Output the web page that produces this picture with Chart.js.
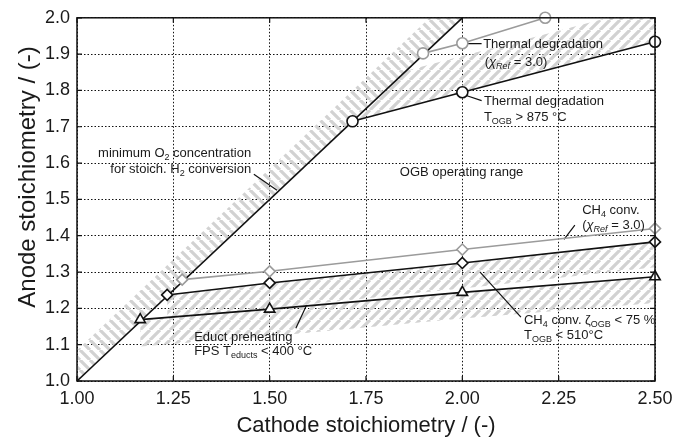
<!DOCTYPE html>
<html><head><meta charset="utf-8">
<script src="https://cdn.jsdelivr.net/npm/chart.js@4.4.1/dist/chart.umd.min.js"></script>
<style>html,body{margin:0;padding:0;background:#fff;}#wrap{width:686px;height:439px;position:relative;}</style>
</head><body><div id="wrap"><canvas id="c" width="686" height="439"></canvas></div>
<script>
// ---- data ----
const xTickLabels = ['1.00','1.25','1.50','1.75','2.00','2.25','2.50'];
const yTickLabels = ['1.0','1.1','1.2','1.3','1.4','1.5','1.6','1.7','1.8','1.9','2.0'];

const stoichX = [1.0, 2.0];
const stoichY = [1.0, 2.0];
const thermalRefX = [1.898, 2.0, 2.215];
const thermalRefY = [1.902, 1.93, 2.0];
const thermalX = [1.715, 2.0, 2.5];
const thermalY = [1.715, 1.795, 1.934];
const ch4RefX = [1.273, 1.5, 2.0, 2.5];
const ch4RefY = [1.279, 1.302, 1.362, 1.42];
const ch4X = [1.234, 1.5, 2.0, 2.5];
const ch4Y = [1.237, 1.27, 1.325, 1.383];
const eductX = [1.164, 1.5, 2.0, 2.5];
const eductY = [1.169, 1.198, 1.244, 1.287];

// hatched bands (edges)
const bandStoichX = [1.0, 2.0];
const bandStoichUpper = [1.085, 2.085];
const bandStoichLower = [1.0, 2.0];
const bandThermalX = [1.715, 1.854, 2.0, 2.5];
const bandThermalUpper = [1.715, 1.854, 1.895, 2.034];
const bandThermalLower = [1.715, 1.754, 1.795, 1.934];
const bandCh4X = [1.234, 1.5, 2.0, 2.5];
const bandCh4Upper = [1.237, 1.27, 1.325, 1.383];
const bandCh4Lower = [1.165, 1.200, 1.255, 1.313];
const bandEductX = [1.164, 1.5, 2.0, 2.5];
const bandEductUpper = [1.169, 1.198, 1.244, 1.287];
const bandEductLower = [1.095, 1.123, 1.172, 1.215];

// leader lines [x1,y1,x2,y2]
const leaderThermalRef = [2.014, 1.929, 2.05, 1.929];
const leaderThermal = [2.01, 1.786, 2.05, 1.772];
const leaderO2 = [1.459, 1.569, 1.519, 1.525];
const leaderCh4Ref = [2.264, 1.390, 2.292, 1.429];
const leaderCh4 = [2.046, 1.300, 2.152, 1.176];
const leaderEduct = [1.596, 1.209, 1.568, 1.145];

const pts = (xs, ys) => xs.map((x, i) => ({x, y: ys[i]}));
const seg = a => [{x: a[0], y: a[1]}, {x: a[2], y: a[3]}];

const canvas = document.getElementById('c');
const ctx0 = canvas.getContext('2d');
function makeHatch(dir) {
  const s = 10;
  const c = document.createElement('canvas');
  c.width = s; c.height = s;
  const g = c.getContext('2d');
  g.strokeStyle = '#d2d2d2';
  g.lineWidth = 3.2;
  g.beginPath();
  for (const o of [-s, 0, s]) {
    if (dir > 0) { g.moveTo(o, s); g.lineTo(o + s, 0); }
    else { g.moveTo(o, 0); g.lineTo(o + s, s); }
  }
  g.stroke();
  return ctx0.createPattern(c, 'repeat');
}
const hatchFwd = makeHatch(1);
const hatchBack = makeHatch(-1);

const BLACK = '#111';
const GRAY = '#9b9b9b';
const FONT = "'Liberation Sans', Arial, Helvetica, sans-serif";

function series(label, xs, ys, color, style, r) {
  return {label, data: pts(xs, ys), borderColor: color, borderWidth: 1.6,
    pointStyle: style, pointRadius: r, pointBorderWidth: 1.6, pointBorderColor: color,
    pointBackgroundColor: '#fff', fill: false, tension: 0, clip: false};
}
function leader(a) {
  return {label: 'leader', data: seg(a), borderColor: BLACK, borderWidth: 1.2, pointRadius: 0, fill: false};
}
function bandEdge(xs, ys, fill, pattern) {
  return {label: 'band', data: pts(xs, ys), borderColor: 'rgba(0,0,0,0)', borderWidth: 0,
    pointRadius: 0, fill: fill, backgroundColor: pattern || 'rgba(0,0,0,0)'};
}

const datasets = [
  series('Thermal degradation (χRef = 3.0)', thermalRefX, thermalRefY, GRAY, 'circle', 5.5),
  series('Thermal degradation TOGB > 875 °C', thermalX, thermalY, BLACK, 'circle', 5.5),
  series('CH4 conv. (χRef = 3.0)', ch4RefX, ch4RefY, GRAY, 'rectRot', 5.5),
  series('CH4 conv. ζOGB < 75 %', ch4X, ch4Y, BLACK, 'rectRot', 5.5),
  series('Educt preheating', eductX, eductY, BLACK, 'triangle', 6),
  {label: 'minimum O2 concentration', data: pts(stoichX, stoichY), borderColor: BLACK, borderWidth: 1.6, pointRadius: 0, fill: false},
  leader(leaderThermalRef), leader(leaderThermal), leader(leaderO2),
  leader(leaderCh4Ref), leader(leaderCh4), leader(leaderEduct),
];
datasets.push(
  bandEdge(bandStoichX, bandStoichUpper, '+1', hatchBack),
  bandEdge(bandStoichX, bandStoichLower, false),
  bandEdge(bandThermalX, bandThermalUpper, '+1', hatchFwd),
  bandEdge(bandThermalX, bandThermalLower, false),
  bandEdge(bandCh4X, bandCh4Upper, '+1', hatchFwd),
  bandEdge(bandCh4X, bandCh4Lower, false),
  bandEdge(bandEductX, bandEductUpper, '+1', hatchFwd),
  bandEdge(bandEductX, bandEductLower, false)
);

// annotation texts: parts [text, kind] kind: n normal, s subscript, i italic, is italic subscript
const notes = [
  {x: 2.054, y: 1.926, a: 'left', p: [['Thermal degradation','n']]},
  {x: 2.058, y: 1.877, a: 'left', p: [['(','n'],['χ','i'],['Ref','is'],[' = 3.0)','n']]},
  {x: 2.056, y: 1.770, a: 'left', p: [['Thermal degradation','n']]},
  {x: 2.056, y: 1.726, a: 'left', p: [['T','n'],['OGB','s'],[' > 875 °C','n']]},
  {x: 1.452, y: 1.626, a: 'right', p: [['minimum O','n'],['2','s'],[' concentration','n']]},
  {x: 1.452, y: 1.583, a: 'right', p: [['for stoich. H','n'],['2','s'],[' conversion','n']]},
  {x: 1.998, y: 1.574, a: 'center', p: [['OGB operating range','n']]},
  {x: 2.311, y: 1.470, a: 'left', p: [['CH','n'],['4','s'],[' conv.','n']]},
  {x: 2.311, y: 1.429, a: 'left', p: [['(','n'],['χ','i'],['Ref','is'],[' = 3.0)','n']]},
  {x: 2.160, y: 1.166, a: 'left', p: [['CH','n'],['4','s'],[' conv. ζ','n'],['OGB','s'],[' < 75 %','n']]},
  {x: 2.160, y: 1.126, a: 'left', p: [['T','n'],['OGB','s'],[' < 510°C','n']]},
  {x: 1.304, y: 1.121, a: 'left', p: [['Educt preheating','n']]},
  {x: 1.304, y: 1.081, a: 'left', p: [['FPS T','n'],['educts','s'],[' < 400 °C','n']]},
];

function fontFor(k) {
  if (k === 'n') return '13px ' + FONT;
  if (k === 'i') return 'italic 13px ' + FONT;
  if (k === 's') return '9px ' + FONT;
  return 'italic 9px ' + FONT;
}

const overlay = {
  id: 'overlay',
  afterDatasetsDraw(chart) {
    const {ctx, chartArea: ca, scales: {x, y}} = chart;
    ctx.save();
    ctx.strokeStyle = BLACK; ctx.lineWidth = 1.5; ctx.setLineDash([]);
    ctx.strokeRect(ca.left, ca.top, ca.right - ca.left, ca.bottom - ca.top);
    ctx.lineWidth = 1.2;
    ctx.beginPath();
    x.ticks.forEach(t => {
      const px = x.getPixelForValue(t.value);
      ctx.moveTo(px, ca.bottom); ctx.lineTo(px, ca.bottom - 5);
      ctx.moveTo(px, ca.top); ctx.lineTo(px, ca.top + 5);
    });
    y.ticks.forEach(t => {
      const py = y.getPixelForValue(t.value);
      ctx.moveTo(ca.left, py); ctx.lineTo(ca.left + 5, py);
      ctx.moveTo(ca.right, py); ctx.lineTo(ca.right - 5, py);
    });
    ctx.stroke();
    ctx.fillStyle = '#1a1a1a';
    ctx.textBaseline = 'middle';
    ctx.textAlign = 'left';
    notes.forEach(n => {
      let w = 0;
      n.p.forEach(([t, k]) => { ctx.font = fontFor(k); w += ctx.measureText(t).width; });
      let cx = x.getPixelForValue(n.x);
      const cy = y.getPixelForValue(n.y);
      if (n.a === 'right') cx -= w; else if (n.a === 'center') cx -= w / 2;
      n.p.forEach(([t, k]) => {
        ctx.font = fontFor(k);
        const dy = (k === 's' || k === 'is') ? 4 : 0;
        ctx.fillText(t, cx, cy + dy);
        cx += ctx.measureText(t).width;
      });
    });
    ctx.font = '24px ' + FONT;
    ctx.fillStyle = '#1a1a1a';
    ctx.textAlign = 'center';
    ctx.translate(28, 177);
    ctx.rotate(-Math.PI / 2);
    ctx.fillText('Anode stoichiometry / (-)', 0, 0);
    ctx.restore();
  }
};

new Chart(canvas, {
  type: 'line',
  data: {datasets},
  plugins: [overlay],
  options: {
    responsive: false, animation: false, devicePixelRatio: 1,
    layout: {padding: {left: 0, right: 31, top: 17, bottom: 0}},
    plugins: {legend: {display: false}, tooltip: {enabled: false}, filler: {drawTime: 'beforeDatasetsDraw'}},
    elements: {line: {tension: 0}},
    scales: {
      x: {
        type: 'linear', min: 1, max: 2.5,
        ticks: {stepSize: 0.25, padding: 7, color: '#1a1a1a', font: {family: FONT, size: 18},
          callback: (v, i) => xTickLabels[i], maxRotation: 0, autoSkip: false},
        grid: {color: BLACK, lineWidth: 1, drawTicks: false},
        border: {display: false, dash: [1.5, 2]},
        title: {display: true, text: 'Cathode stoichiometry / (-)', color: '#1a1a1a',
          font: {family: FONT, size: 22}, padding: {top: 0, bottom: 0}},
        afterFit: s => { s.height = 58; }
      },
      y: {
        type: 'linear', min: 1, max: 2,
        ticks: {stepSize: 0.1, padding: 7, color: '#1a1a1a', font: {family: FONT, size: 18},
          callback: (v, i) => yTickLabels[i], autoSkip: false},
        grid: {color: BLACK, lineWidth: 1, drawTicks: false},
        border: {display: false, dash: [1.5, 2]},
        afterFit: s => { s.width = 77; }
      }
    }
  }
});
</script></body></html>
